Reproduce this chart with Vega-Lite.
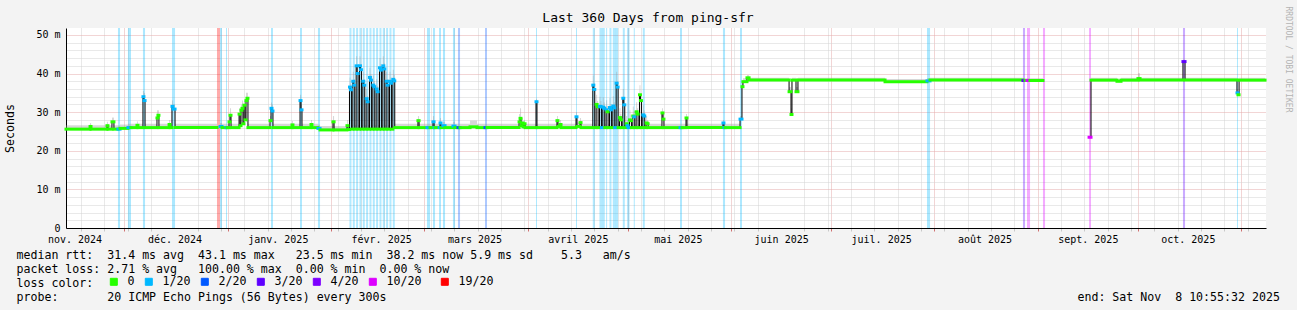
{
  "$schema": "https://vega.github.io/schema/vega-lite/v6.json",
  "width": 1200,
  "height": 200,
  "autosize": {"type": "none"},
  "padding": {"left": 66, "top": 28, "right": 31, "bottom": 82},
  "background": "#f3f3f3",
  "title": {"text": "Last 360 Days from ping-sfr", "font": "DejaVu Sans Mono", "fontSize": 13, "fontWeight": "normal", "color": "#000000", "anchor": "middle", "dx": -18, "offset": -19},
  "config": {
    "view": {"fill": "white", "stroke": null},
    "font": "DejaVu Sans Mono"
  },
  "data": {
    "format": {"parse": {"t": "date", "t2": "date"}},
    "values": [
      {"t": "2024-11-13T10:56", "t2": "2024-11-20T16:00", "m": 25.6, "l": "0", "s": 26.6},
      {"t": "2024-11-20T16:00", "t2": "2024-11-20T23:00", "m": 26.3, "l": "0", "s": 27.2},
      {"t": "2024-11-20T23:00", "t2": "2024-11-25T18:00", "m": 25.6, "l": "0", "s": 26.6},
      {"t": "2024-11-25T18:00", "t2": "2024-11-26T01:00", "m": 26.5, "l": "0", "s": 27.5},
      {"t": "2024-11-26T01:00", "t2": "2024-11-27T06:00", "m": 25.6, "l": "0", "s": 26.6},
      {"t": "2024-11-27T06:00", "t2": "2024-11-27T20:00", "m": 27.5, "l": "0", "s": 28.6},
      {"t": "2024-11-27T20:00", "t2": "2024-11-29T01:00", "m": 25.6, "l": "0", "s": 26.6},
      {"t": "2024-11-29T01:00", "t2": "2024-11-29T16:00", "m": 25.6, "l": "1/20", "s": 26.6},
      {"t": "2024-11-29T16:00", "t2": "2024-12-02T01:00", "m": 25.8, "l": "0", "s": 26.8},
      {"t": "2024-12-02T01:00", "t2": "2024-12-02T23:00", "m": 26.0, "l": "1/20", "s": 27},
      {"t": "2024-12-02T23:00", "t2": "2024-12-04T18:00", "m": 26.0, "l": "0", "s": 27},
      {"t": "2024-12-04T18:00", "t2": "2024-12-05T01:00", "m": 26.6, "l": "0", "s": 27.6},
      {"t": "2024-12-05T01:00", "t2": "2024-12-06T13:00", "m": 26.0, "l": "0", "s": 27},
      {"t": "2024-12-06T13:00", "t2": "2024-12-06T20:00", "m": 34.0, "l": "1/20", "s": 35.5},
      {"t": "2024-12-06T20:00", "t2": "2024-12-07T04:00", "m": 33.0, "l": "1/20", "s": 35},
      {"t": "2024-12-07T04:00", "t2": "2024-12-10T18:00", "m": 26.0, "l": "0", "s": 27},
      {"t": "2024-12-10T18:00", "t2": "2024-12-11T01:00", "m": 28.5, "l": "0", "s": 30.5},
      {"t": "2024-12-11T01:00", "t2": "2024-12-11T08:00", "m": 29.2, "l": "0", "s": 30.5},
      {"t": "2024-12-11T08:00", "t2": "2024-12-14T09:00", "m": 26.0, "l": "0", "s": 27},
      {"t": "2024-12-14T09:00", "t2": "2024-12-14T16:00", "m": 26.8, "l": "0", "s": 28},
      {"t": "2024-12-14T16:00", "t2": "2024-12-15T06:00", "m": 26.0, "l": "0", "s": 27},
      {"t": "2024-12-15T06:00", "t2": "2024-12-15T13:00", "m": 31.5, "l": "1/20", "s": 33},
      {"t": "2024-12-15T13:00", "t2": "2024-12-16T04:00", "m": 30.8, "l": "1/20", "s": 32},
      {"t": "2024-12-16T04:00", "t2": "2024-12-28T18:00", "m": 26.0, "l": "0", "s": 27},
      {"t": "2024-12-28T18:00", "t2": "2024-12-29T16:00", "m": null, "l": "19/20", "s": null},
      {"t": "2024-12-29T16:00", "t2": "2024-12-30T06:00", "m": 26.3, "l": "1/20", "s": 27.2},
      {"t": "2024-12-30T06:00", "t2": "2024-12-31T11:00", "m": 26.0, "l": "0", "s": 27},
      {"t": "2024-12-31T11:00", "t2": "2024-12-31T18:00", "m": 26.0, "l": "1/20", "s": 27},
      {"t": "2024-12-31T18:00", "t2": "2025-01-01T09:00", "m": 26.0, "l": "0", "s": 27},
      {"t": "2025-01-01T09:00", "t2": "2025-01-01T16:00", "m": 27.5, "l": "0", "s": 29},
      {"t": "2025-01-01T16:00", "t2": "2025-01-01T23:00", "m": 29.2, "l": "0", "s": 31},
      {"t": "2025-01-01T23:00", "t2": "2025-01-04T09:00", "m": 26.0, "l": "0", "s": 27},
      {"t": "2025-01-04T09:00", "t2": "2025-01-04T16:00", "m": 29.5, "l": "0", "s": 31},
      {"t": "2025-01-04T16:00", "t2": "2025-01-04T23:00", "m": 26.5, "l": "0", "s": 28},
      {"t": "2025-01-04T23:00", "t2": "2025-01-05T06:00", "m": 30.5, "l": "0", "s": 32},
      {"t": "2025-01-05T06:00", "t2": "2025-01-05T13:00", "m": 31.0, "l": "0", "s": 33},
      {"t": "2025-01-05T13:00", "t2": "2025-01-05T20:00", "m": 27.0, "l": "0", "s": 28},
      {"t": "2025-01-05T20:00", "t2": "2025-01-06T04:00", "m": 31.8, "l": "0", "s": 33},
      {"t": "2025-01-06T04:00", "t2": "2025-01-06T11:00", "m": 28.0, "l": "0", "s": 30},
      {"t": "2025-01-06T11:00", "t2": "2025-01-06T18:00", "m": 33.0, "l": "0", "s": 35},
      {"t": "2025-01-06T18:00", "t2": "2025-01-07T01:00", "m": 33.6, "l": "0", "s": 35},
      {"t": "2025-01-07T01:00", "t2": "2025-01-13T16:00", "m": 26.0, "l": "0", "s": 27},
      {"t": "2025-01-13T16:00", "t2": "2025-01-13T23:00", "m": 27.8, "l": "0", "s": 29},
      {"t": "2025-01-13T23:00", "t2": "2025-01-14T06:00", "m": 31.0, "l": "1/20", "s": 32.5},
      {"t": "2025-01-14T06:00", "t2": "2025-01-14T13:00", "m": 30.3, "l": "1/20", "s": 32},
      {"t": "2025-01-14T13:00", "t2": "2025-01-20T06:00", "m": 26.0, "l": "0", "s": 27},
      {"t": "2025-01-20T06:00", "t2": "2025-01-20T13:00", "m": 26.7, "l": "0", "s": 27.7},
      {"t": "2025-01-20T13:00", "t2": "2025-01-22T16:00", "m": 26.0, "l": "0", "s": 27},
      {"t": "2025-01-22T16:00", "t2": "2025-01-22T23:00", "m": 33.0, "l": "1/20", "s": 34.5},
      {"t": "2025-01-22T23:00", "t2": "2025-01-23T06:00", "m": 30.6, "l": "1/20", "s": 32},
      {"t": "2025-01-23T06:00", "t2": "2025-01-25T23:00", "m": 26.0, "l": "0", "s": 27},
      {"t": "2025-01-25T23:00", "t2": "2025-01-26T06:00", "m": 26.8, "l": "0", "s": 28},
      {"t": "2025-01-26T06:00", "t2": "2025-01-28T01:00", "m": 26.0, "l": "0", "s": 27},
      {"t": "2025-01-28T01:00", "t2": "2025-01-28T16:00", "m": 25.8, "l": "1/20", "s": 26.8},
      {"t": "2025-01-28T16:00", "t2": "2025-02-01T13:00", "m": 25.4, "l": "0", "s": 26.4},
      {"t": "2025-02-01T13:00", "t2": "2025-02-01T21:00", "m": 27.5, "l": "0", "s": 29},
      {"t": "2025-02-01T21:00", "t2": "2025-02-05T18:00", "m": 25.4, "l": "0", "s": 26.4},
      {"t": "2025-02-05T18:00", "t2": "2025-02-06T01:00", "m": 26.5, "l": "0", "s": 28},
      {"t": "2025-02-06T01:00", "t2": "2025-02-06T12:00", "m": 25.5, "l": "0", "s": 26.5},
      {"t": "2025-02-06T12:00", "t2": "2025-02-06T19:00", "m": 36.5, "l": "1/20", "s": 39},
      {"t": "2025-02-06T19:00", "t2": "2025-02-07T02:00", "m": 35.8, "l": "1/20", "s": 37.3},
      {"t": "2025-02-07T02:00", "t2": "2025-02-07T12:00", "m": 25.6, "l": "0", "s": 26.6},
      {"t": "2025-02-07T12:00", "t2": "2025-02-07T19:00", "m": 38.0, "l": "1/20", "s": 40.5},
      {"t": "2025-02-07T19:00", "t2": "2025-02-08T02:00", "m": 37.0, "l": "1/20", "s": 38.5},
      {"t": "2025-02-08T02:00", "t2": "2025-02-08T12:00", "m": 25.6, "l": "0", "s": 26.6},
      {"t": "2025-02-08T12:00", "t2": "2025-02-08T19:00", "m": 42.0, "l": "1/20", "s": 44.5},
      {"t": "2025-02-08T19:00", "t2": "2025-02-09T02:00", "m": 40.0, "l": "1/20", "s": 41.5},
      {"t": "2025-02-09T02:00", "t2": "2025-02-09T12:00", "m": 25.6, "l": "0", "s": 26.6},
      {"t": "2025-02-09T12:00", "t2": "2025-02-09T19:00", "m": 42.0, "l": "1/20", "s": 44.5},
      {"t": "2025-02-09T19:00", "t2": "2025-02-10T02:00", "m": 41.0, "l": "1/20", "s": 42.5},
      {"t": "2025-02-10T02:00", "t2": "2025-02-10T12:00", "m": 25.6, "l": "0", "s": 26.6},
      {"t": "2025-02-10T12:00", "t2": "2025-02-10T19:00", "m": 38.0, "l": "1/20", "s": 40.5},
      {"t": "2025-02-10T19:00", "t2": "2025-02-11T02:00", "m": 37.0, "l": "1/20", "s": 38.5},
      {"t": "2025-02-11T02:00", "t2": "2025-02-11T12:00", "m": 25.6, "l": "0", "s": 26.6},
      {"t": "2025-02-11T12:00", "t2": "2025-02-11T19:00", "m": 33.5, "l": "1/20", "s": 36},
      {"t": "2025-02-11T19:00", "t2": "2025-02-12T02:00", "m": 32.7, "l": "1/20", "s": 34.2},
      {"t": "2025-02-12T02:00", "t2": "2025-02-12T12:00", "m": 25.6, "l": "0", "s": 26.6},
      {"t": "2025-02-12T12:00", "t2": "2025-02-12T19:00", "m": 39.0, "l": "1/20", "s": 41.5},
      {"t": "2025-02-12T19:00", "t2": "2025-02-13T02:00", "m": 38.3, "l": "1/20", "s": 39.8},
      {"t": "2025-02-13T02:00", "t2": "2025-02-13T12:00", "m": 25.6, "l": "0", "s": 26.6},
      {"t": "2025-02-13T12:00", "t2": "2025-02-13T19:00", "m": 37.0, "l": "1/20", "s": 39.5},
      {"t": "2025-02-13T19:00", "t2": "2025-02-14T02:00", "m": 36.6, "l": "1/20", "s": 38.1},
      {"t": "2025-02-14T02:00", "t2": "2025-02-14T12:00", "m": 25.6, "l": "0", "s": 26.6},
      {"t": "2025-02-14T12:00", "t2": "2025-02-14T19:00", "m": 36.0, "l": "1/20", "s": 38.5},
      {"t": "2025-02-14T19:00", "t2": "2025-02-15T02:00", "m": 35.3, "l": "1/20", "s": 36.8},
      {"t": "2025-02-15T02:00", "t2": "2025-02-15T12:00", "m": 25.6, "l": "0", "s": 26.6},
      {"t": "2025-02-15T12:00", "t2": "2025-02-15T19:00", "m": 41.5, "l": "1/20", "s": 44},
      {"t": "2025-02-15T19:00", "t2": "2025-02-16T02:00", "m": 40.9, "l": "1/20", "s": 42.4},
      {"t": "2025-02-16T02:00", "t2": "2025-02-16T12:00", "m": 25.6, "l": "0", "s": 26.6},
      {"t": "2025-02-16T12:00", "t2": "2025-02-16T19:00", "m": 42.0, "l": "1/20", "s": 44.5},
      {"t": "2025-02-16T19:00", "t2": "2025-02-17T02:00", "m": 41.2, "l": "1/20", "s": 42.7},
      {"t": "2025-02-17T02:00", "t2": "2025-02-17T12:00", "m": 25.6, "l": "0", "s": 26.6},
      {"t": "2025-02-17T12:00", "t2": "2025-02-17T19:00", "m": 38.0, "l": "1/20", "s": 40.5},
      {"t": "2025-02-17T19:00", "t2": "2025-02-18T02:00", "m": 37.0, "l": "1/20", "s": 38.5},
      {"t": "2025-02-18T02:00", "t2": "2025-02-18T12:00", "m": 25.6, "l": "0", "s": 26.6},
      {"t": "2025-02-18T12:00", "t2": "2025-02-18T19:00", "m": 38.0, "l": "1/20", "s": 40.5},
      {"t": "2025-02-18T19:00", "t2": "2025-02-19T02:00", "m": 37.5, "l": "1/20", "s": 39},
      {"t": "2025-02-19T02:00", "t2": "2025-02-19T12:00", "m": 25.6, "l": "0", "s": 26.6},
      {"t": "2025-02-19T12:00", "t2": "2025-02-19T19:00", "m": 38.5, "l": "1/20", "s": 41},
      {"t": "2025-02-19T19:00", "t2": "2025-02-20T02:00", "m": 38.1, "l": "1/20", "s": 39.6},
      {"t": "2025-02-20T02:00", "t2": "2025-02-27T01:00", "m": 26.0, "l": "0", "s": 27},
      {"t": "2025-02-27T01:00", "t2": "2025-02-27T09:00", "m": 27.8, "l": "0", "s": 29},
      {"t": "2025-02-27T09:00", "t2": "2025-03-01T18:00", "m": 26.0, "l": "0", "s": 27},
      {"t": "2025-03-01T18:00", "t2": "2025-03-02T16:00", "m": 26.0, "l": "1/20", "s": 27},
      {"t": "2025-03-02T16:00", "t2": "2025-03-03T13:00", "m": 26.0, "l": "0", "s": 27},
      {"t": "2025-03-03T13:00", "t2": "2025-03-03T21:00", "m": 27.5, "l": "1/20", "s": 29},
      {"t": "2025-03-03T21:00", "t2": "2025-03-04T04:00", "m": 26.0, "l": "1/20", "s": 27},
      {"t": "2025-03-04T04:00", "t2": "2025-03-05T09:00", "m": 26.0, "l": "0", "s": 27},
      {"t": "2025-03-05T09:00", "t2": "2025-03-05T16:00", "m": 26.0, "l": "1/20", "s": 27},
      {"t": "2025-03-05T16:00", "t2": "2025-03-05T23:00", "m": 27.2, "l": "1/20", "s": 28.5},
      {"t": "2025-03-05T23:00", "t2": "2025-03-06T13:00", "m": 26.0, "l": "0", "s": 27},
      {"t": "2025-03-06T13:00", "t2": "2025-03-07T04:00", "m": 26.5, "l": "1/20", "s": 27.5},
      {"t": "2025-03-07T04:00", "t2": "2025-03-09T13:00", "m": 26.0, "l": "0", "s": 27},
      {"t": "2025-03-09T13:00", "t2": "2025-03-10T04:00", "m": 26.4, "l": "1/20", "s": 27.5},
      {"t": "2025-03-10T04:00", "t2": "2025-03-11T01:00", "m": 26.0, "l": "0", "s": 27},
      {"t": "2025-03-11T01:00", "t2": "2025-03-11T16:00", "m": 26.0, "l": "2/20", "s": 27},
      {"t": "2025-03-11T16:00", "t2": "2025-03-14T16:00", "m": 26.0, "l": "0", "s": 27},
      {"t": "2025-03-14T16:00", "t2": "2025-03-16T18:00", "m": 26.2, "l": "0", "s": 27.8},
      {"t": "2025-03-16T18:00", "t2": "2025-03-19T04:00", "m": 26.0, "l": "0", "s": 27},
      {"t": "2025-03-19T04:00", "t2": "2025-03-19T18:00", "m": 26.0, "l": "2/20", "s": 27},
      {"t": "2025-03-19T18:00", "t2": "2025-03-29T09:00", "m": 26.0, "l": "0", "s": 27},
      {"t": "2025-03-29T09:00", "t2": "2025-03-29T16:00", "m": 27.5, "l": "0", "s": 29.5},
      {"t": "2025-03-29T16:00", "t2": "2025-03-29T23:00", "m": 28.4, "l": "0", "s": 31},
      {"t": "2025-03-29T23:00", "t2": "2025-03-30T06:00", "m": 26.5, "l": "0", "s": 28},
      {"t": "2025-03-30T06:00", "t2": "2025-03-30T13:00", "m": 27.2, "l": "0", "s": 28.5},
      {"t": "2025-03-30T13:00", "t2": "2025-03-30T20:00", "m": 26.2, "l": "0", "s": 27.5},
      {"t": "2025-03-30T20:00", "t2": "2025-03-31T04:00", "m": 27.0, "l": "0", "s": 28},
      {"t": "2025-03-31T04:00", "t2": "2025-04-03T11:00", "m": 26.0, "l": "0", "s": 27},
      {"t": "2025-04-03T11:00", "t2": "2025-04-03T18:00", "m": 32.7, "l": "1/20", "s": 33.5},
      {"t": "2025-04-03T18:00", "t2": "2025-04-09T18:00", "m": 26.0, "l": "0", "s": 27},
      {"t": "2025-04-09T18:00", "t2": "2025-04-10T01:00", "m": 27.8, "l": "0", "s": 29},
      {"t": "2025-04-10T01:00", "t2": "2025-04-10T16:00", "m": 26.3, "l": "0", "s": 27.3},
      {"t": "2025-04-10T16:00", "t2": "2025-04-10T23:00", "m": 26.8, "l": "0", "s": 28},
      {"t": "2025-04-10T23:00", "t2": "2025-04-15T11:00", "m": 26.0, "l": "0", "s": 27},
      {"t": "2025-04-15T11:00", "t2": "2025-04-15T18:00", "m": 28.8, "l": "1/20", "s": 30},
      {"t": "2025-04-15T18:00", "t2": "2025-04-16T16:00", "m": 26.3, "l": "0", "s": 27.3},
      {"t": "2025-04-16T16:00", "t2": "2025-04-16T23:00", "m": 27.3, "l": "0", "s": 28.5},
      {"t": "2025-04-16T23:00", "t2": "2025-04-20T12:00", "m": 26.0, "l": "0", "s": 27},
      {"t": "2025-04-20T12:00", "t2": "2025-04-20T19:00", "m": 37.0, "l": "1/20", "s": 39.5},
      {"t": "2025-04-20T19:00", "t2": "2025-04-21T02:00", "m": 35.9, "l": "1/20", "s": 37.4},
      {"t": "2025-04-21T02:00", "t2": "2025-04-21T12:00", "m": 26.0, "l": "0", "s": 27},
      {"t": "2025-04-21T12:00", "t2": "2025-04-21T19:00", "m": 32.0, "l": "0", "s": 34.5},
      {"t": "2025-04-21T19:00", "t2": "2025-04-22T02:00", "m": 31.4, "l": "0", "s": 32.9},
      {"t": "2025-04-22T02:00", "t2": "2025-04-22T12:00", "m": 26.0, "l": "0", "s": 27},
      {"t": "2025-04-22T12:00", "t2": "2025-04-22T19:00", "m": 31.5, "l": "1/20", "s": 34},
      {"t": "2025-04-22T19:00", "t2": "2025-04-23T02:00", "m": 31.4, "l": "1/20", "s": 32.9},
      {"t": "2025-04-23T02:00", "t2": "2025-04-23T12:00", "m": 26.0, "l": "1/20", "s": 27},
      {"t": "2025-04-23T12:00", "t2": "2025-04-23T19:00", "m": 31.3, "l": "1/20", "s": 33.8},
      {"t": "2025-04-23T19:00", "t2": "2025-04-24T02:00", "m": 31.0, "l": "1/20", "s": 32.5},
      {"t": "2025-04-24T02:00", "t2": "2025-04-24T12:00", "m": 26.0, "l": "0", "s": 27},
      {"t": "2025-04-24T12:00", "t2": "2025-04-24T19:00", "m": 30.6, "l": "1/20", "s": 33.1},
      {"t": "2025-04-24T19:00", "t2": "2025-04-25T02:00", "m": 30.1, "l": "0", "s": 31.6},
      {"t": "2025-04-25T02:00", "t2": "2025-04-25T12:00", "m": 26.0, "l": "0", "s": 27},
      {"t": "2025-04-25T12:00", "t2": "2025-04-25T19:00", "m": 31.2, "l": "1/20", "s": 33.7},
      {"t": "2025-04-25T19:00", "t2": "2025-04-26T02:00", "m": 30.6, "l": "1/20", "s": 32.1},
      {"t": "2025-04-26T02:00", "t2": "2025-04-26T12:00", "m": 26.0, "l": "0", "s": 27},
      {"t": "2025-04-26T12:00", "t2": "2025-04-26T19:00", "m": 31.6, "l": "1/20", "s": 34.1},
      {"t": "2025-04-26T19:00", "t2": "2025-04-27T02:00", "m": 31.1, "l": "1/20", "s": 32.6},
      {"t": "2025-04-27T02:00", "t2": "2025-04-27T12:00", "m": 26.0, "l": "1/20", "s": 27},
      {"t": "2025-04-27T12:00", "t2": "2025-04-27T19:00", "m": 37.5, "l": "1/20", "s": 40.5},
      {"t": "2025-04-27T19:00", "t2": "2025-04-28T02:00", "m": 36.5, "l": "1/20", "s": 38},
      {"t": "2025-04-28T02:00", "t2": "2025-04-28T12:00", "m": 26.0, "l": "0", "s": 27},
      {"t": "2025-04-28T12:00", "t2": "2025-04-28T19:00", "m": 28.6, "l": "0", "s": 31},
      {"t": "2025-04-28T19:00", "t2": "2025-04-29T02:00", "m": 28.0, "l": "0", "s": 29.5},
      {"t": "2025-04-29T02:00", "t2": "2025-04-29T12:00", "m": 26.0, "l": "0", "s": 27},
      {"t": "2025-04-29T12:00", "t2": "2025-04-29T19:00", "m": 33.6, "l": "1/20", "s": 36},
      {"t": "2025-04-29T19:00", "t2": "2025-04-30T02:00", "m": 31.9, "l": "1/20", "s": 33.4},
      {"t": "2025-04-30T02:00", "t2": "2025-04-30T12:00", "m": 26.0, "l": "0", "s": 27},
      {"t": "2025-04-30T12:00", "t2": "2025-04-30T19:00", "m": 27.0, "l": "0", "s": 29},
      {"t": "2025-04-30T19:00", "t2": "2025-05-01T02:00", "m": 26.5, "l": "1/20", "s": 28},
      {"t": "2025-05-01T02:00", "t2": "2025-05-01T12:00", "m": 26.0, "l": "1/20", "s": 27},
      {"t": "2025-05-01T12:00", "t2": "2025-05-01T19:00", "m": 28.0, "l": "0", "s": 30.5},
      {"t": "2025-05-01T19:00", "t2": "2025-05-02T02:00", "m": 27.8, "l": "0", "s": 29.3},
      {"t": "2025-05-02T02:00", "t2": "2025-05-02T12:00", "m": 26.0, "l": "0", "s": 27},
      {"t": "2025-05-02T12:00", "t2": "2025-05-02T19:00", "m": 29.0, "l": "0", "s": 31.5},
      {"t": "2025-05-02T19:00", "t2": "2025-05-03T02:00", "m": 28.8, "l": "1/20", "s": 30.3},
      {"t": "2025-05-03T02:00", "t2": "2025-05-03T12:00", "m": 26.0, "l": "0", "s": 27},
      {"t": "2025-05-03T12:00", "t2": "2025-05-03T19:00", "m": 30.1, "l": "0", "s": 32.6},
      {"t": "2025-05-03T19:00", "t2": "2025-05-04T02:00", "m": 29.5, "l": "0", "s": 31},
      {"t": "2025-05-04T02:00", "t2": "2025-05-04T12:00", "m": 26.0, "l": "0", "s": 27},
      {"t": "2025-05-04T12:00", "t2": "2025-05-04T19:00", "m": 34.5, "l": "0", "s": 37},
      {"t": "2025-05-04T19:00", "t2": "2025-05-05T02:00", "m": 33.0, "l": "0", "s": 34.5},
      {"t": "2025-05-05T02:00", "t2": "2025-05-05T12:00", "m": 26.0, "l": "0", "s": 27},
      {"t": "2025-05-05T12:00", "t2": "2025-05-05T19:00", "m": 29.3, "l": "1/20", "s": 31.8},
      {"t": "2025-05-05T19:00", "t2": "2025-05-06T02:00", "m": 29.0, "l": "1/20", "s": 30.5},
      {"t": "2025-05-06T02:00", "t2": "2025-05-06T12:00", "m": 26.0, "l": "0", "s": 27},
      {"t": "2025-05-06T12:00", "t2": "2025-05-06T19:00", "m": 27.2, "l": "0", "s": 29},
      {"t": "2025-05-06T19:00", "t2": "2025-05-07T02:00", "m": 27.0, "l": "0", "s": 28},
      {"t": "2025-05-07T02:00", "t2": "2025-05-11T06:00", "m": 26.0, "l": "0", "s": 27},
      {"t": "2025-05-11T06:00", "t2": "2025-05-11T13:00", "m": 29.8, "l": "0", "s": 31},
      {"t": "2025-05-11T13:00", "t2": "2025-05-11T20:00", "m": 28.2, "l": "0", "s": 29.5},
      {"t": "2025-05-11T20:00", "t2": "2025-05-16T16:00", "m": 26.0, "l": "0", "s": 27},
      {"t": "2025-05-16T16:00", "t2": "2025-05-17T06:00", "m": 26.0, "l": "1/20", "s": 27},
      {"t": "2025-05-17T06:00", "t2": "2025-05-18T11:00", "m": 26.0, "l": "0", "s": 27},
      {"t": "2025-05-18T11:00", "t2": "2025-05-18T18:00", "m": 28.5, "l": "0", "s": 29.5},
      {"t": "2025-05-18T18:00", "t2": "2025-05-29T13:00", "m": 26.0, "l": "0", "s": 27},
      {"t": "2025-05-29T13:00", "t2": "2025-05-29T20:00", "m": 27.2, "l": "1/20", "s": 28},
      {"t": "2025-05-29T20:00", "t2": "2025-05-30T04:00", "m": 26.0, "l": "1/20", "s": 27},
      {"t": "2025-05-30T04:00", "t2": "2025-06-03T16:00", "m": 26.0, "l": "0", "s": 27},
      {"t": "2025-06-03T16:00", "t2": "2025-06-04T06:00", "m": 28.2, "l": "1/20", "s": 29},
      {"t": "2025-06-04T06:00", "t2": "2025-06-04T13:00", "m": 36.6, "l": "0", "s": 37.5},
      {"t": "2025-06-04T13:00", "t2": "2025-06-05T18:00", "m": 37.9, "l": "0", "s": 38.8},
      {"t": "2025-06-05T18:00", "t2": "2025-06-06T09:00", "m": 38.9, "l": "0", "s": 39.6},
      {"t": "2025-06-06T09:00", "t2": "2025-06-18T09:00", "m": 38.3, "l": "0", "s": 38.9},
      {"t": "2025-06-18T09:00", "t2": "2025-06-18T23:00", "m": 35.3, "l": "0", "s": 36.5},
      {"t": "2025-06-18T23:00", "t2": "2025-06-19T06:00", "m": 29.4, "l": "0", "s": 31},
      {"t": "2025-06-19T06:00", "t2": "2025-06-20T11:00", "m": 38.3, "l": "0", "s": 38.9},
      {"t": "2025-06-20T11:00", "t2": "2025-06-21T01:00", "m": 35.3, "l": "0", "s": 36.5},
      {"t": "2025-06-21T01:00", "t2": "2025-07-17T04:00", "m": 38.3, "l": "0", "s": 38.9},
      {"t": "2025-07-17T04:00", "t2": "2025-07-29T18:00", "m": 37.9, "l": "0", "s": 38.6},
      {"t": "2025-07-29T18:00", "t2": "2025-07-30T16:00", "m": 38.1, "l": "1/20", "s": 38.8},
      {"t": "2025-07-30T16:00", "t2": "2025-08-27T13:00", "m": 38.3, "l": "0", "s": 38.9},
      {"t": "2025-08-27T13:00", "t2": "2025-08-28T04:00", "m": 38.2, "l": "3/20", "s": 38.8},
      {"t": "2025-08-28T04:00", "t2": "2025-08-28T18:00", "m": 38.2, "l": "0", "s": 38.8},
      {"t": "2025-08-28T18:00", "t2": "2025-08-29T16:00", "m": 38.2, "l": "10/20", "s": 38.8},
      {"t": "2025-08-29T16:00", "t2": "2025-09-02T13:00", "m": 38.2, "l": "0", "s": 38.8},
      {"t": "2025-09-02T13:00", "t2": "2025-09-03T04:00", "m": null, "l": "10/20", "s": null},
      {"t": "2025-09-03T04:00", "t2": "2025-09-16T09:00", "m": null, "l": "0", "s": null},
      {"t": "2025-09-16T09:00", "t2": "2025-09-16T23:00", "m": 23.5, "l": "10/20", "s": null},
      {"t": "2025-09-16T23:00", "t2": "2025-09-24T18:00", "m": 38.3, "l": "0", "s": 38.9},
      {"t": "2025-09-24T18:00", "t2": "2025-09-25T23:00", "m": 38.0, "l": "0", "s": 38.6},
      {"t": "2025-09-25T23:00", "t2": "2025-10-01T01:00", "m": 38.3, "l": "0", "s": 38.9},
      {"t": "2025-10-01T01:00", "t2": "2025-10-01T16:00", "m": 38.7, "l": "0", "s": 40.1},
      {"t": "2025-10-01T16:00", "t2": "2025-10-14T13:00", "m": 38.3, "l": "0", "s": 38.9},
      {"t": "2025-10-14T13:00", "t2": "2025-10-15T04:00", "m": 43.1, "l": "3/20", "s": 43.6},
      {"t": "2025-10-15T04:00", "t2": "2025-10-30T18:00", "m": 38.3, "l": "0", "s": 38.9},
      {"t": "2025-10-30T18:00", "t2": "2025-10-31T01:00", "m": 35.0, "l": "1/20", "s": 36},
      {"t": "2025-10-31T01:00", "t2": "2025-10-31T09:00", "m": 34.5, "l": "0", "s": 35.5},
      {"t": "2025-10-31T09:00", "t2": "2025-11-08T04:00", "m": 38.3, "l": "0", "s": 38.9}
    ]
  },
  "encoding": {
    "x": {
      "field": "t",
      "type": "temporal",
      "scale": {"domain": [{"year": 2024, "month": 11, "date": 13, "hours": 10, "minutes": 55, "seconds": 32}, {"year": 2025, "month": 11, "date": 8, "hours": 10, "minutes": 55, "seconds": 32}]},
      "axis": {
        "values": [
          {"year": 2024, "month": 12, "date": 1}, {"year": 2025, "month": 1, "date": 1}, {"year": 2025, "month": 2, "date": 1}, {"year": 2025, "month": 3, "date": 1}, {"year": 2025, "month": 4, "date": 1}, {"year": 2025, "month": 5, "date": 1}, {"year": 2025, "month": 6, "date": 1}, {"year": 2025, "month": 7, "date": 1}, {"year": 2025, "month": 8, "date": 1}, {"year": 2025, "month": 9, "date": 1}, {"year": 2025, "month": 10, "date": 1}, {"year": 2025, "month": 11, "date": 1},
          {"year": 2024, "month": 11, "date": 18}, {"year": 2024, "month": 11, "date": 25}, {"year": 2024, "month": 12, "date": 2}, {"year": 2024, "month": 12, "date": 9}, {"year": 2024, "month": 12, "date": 16}, {"year": 2024, "month": 12, "date": 23}, {"year": 2024, "month": 12, "date": 30},
          {"year": 2025, "month": 1, "date": 6}, {"year": 2025, "month": 1, "date": 13}, {"year": 2025, "month": 1, "date": 20}, {"year": 2025, "month": 1, "date": 27},
          {"year": 2025, "month": 2, "date": 3}, {"year": 2025, "month": 2, "date": 10}, {"year": 2025, "month": 2, "date": 17}, {"year": 2025, "month": 2, "date": 24},
          {"year": 2025, "month": 3, "date": 3}, {"year": 2025, "month": 3, "date": 10}, {"year": 2025, "month": 3, "date": 17}, {"year": 2025, "month": 3, "date": 24}, {"year": 2025, "month": 3, "date": 31},
          {"year": 2025, "month": 4, "date": 7}, {"year": 2025, "month": 4, "date": 14}, {"year": 2025, "month": 4, "date": 21}, {"year": 2025, "month": 4, "date": 28},
          {"year": 2025, "month": 5, "date": 5}, {"year": 2025, "month": 5, "date": 12}, {"year": 2025, "month": 5, "date": 19}, {"year": 2025, "month": 5, "date": 26},
          {"year": 2025, "month": 6, "date": 2}, {"year": 2025, "month": 6, "date": 9}, {"year": 2025, "month": 6, "date": 16}, {"year": 2025, "month": 6, "date": 23}, {"year": 2025, "month": 6, "date": 30},
          {"year": 2025, "month": 7, "date": 7}, {"year": 2025, "month": 7, "date": 14}, {"year": 2025, "month": 7, "date": 21}, {"year": 2025, "month": 7, "date": 28},
          {"year": 2025, "month": 8, "date": 4}, {"year": 2025, "month": 8, "date": 11}, {"year": 2025, "month": 8, "date": 18}, {"year": 2025, "month": 8, "date": 25},
          {"year": 2025, "month": 9, "date": 8}, {"year": 2025, "month": 9, "date": 15}, {"year": 2025, "month": 9, "date": 22}, {"year": 2025, "month": 9, "date": 29},
          {"year": 2025, "month": 10, "date": 6}, {"year": 2025, "month": 10, "date": 13}, {"year": 2025, "month": 10, "date": 20}, {"year": 2025, "month": 10, "date": 27}, {"year": 2025, "month": 11, "date": 3},
          {"year": 2024, "month": 11, "date": 16, "milliseconds": 1}, {"year": 2024, "month": 12, "date": 16, "milliseconds": 1}, {"year": 2025, "month": 1, "date": 16, "milliseconds": 1}, {"year": 2025, "month": 2, "date": 16, "milliseconds": 1}, {"year": 2025, "month": 3, "date": 16, "milliseconds": 1}, {"year": 2025, "month": 4, "date": 16, "milliseconds": 1}, {"year": 2025, "month": 5, "date": 16, "milliseconds": 1}, {"year": 2025, "month": 6, "date": 16, "milliseconds": 1}, {"year": 2025, "month": 7, "date": 16, "milliseconds": 1}, {"year": 2025, "month": 8, "date": 16, "milliseconds": 1}, {"year": 2025, "month": 9, "date": 16, "milliseconds": 1}, {"year": 2025, "month": 10, "date": 16, "milliseconds": 1}
        ],
        "labelExpr": "datum.value % 1000 == 1 ? ['janv.','févr.','mars','avril','mai','juin','juil.','août','sept.','oct.','nov.','déc.'][month(datum.value)] + ' ' + year(datum.value) : ''",
        "labelFont": "DejaVu Sans Mono",
        "labelFontSize": 10,
        "labelColor": "#000000",
        "labelOverlap": false,
        "labelFlush": false,
        "labelBound": false,
        "labelPadding": 3,
        "labelBaseline": "top",
        "grid": true,
        "gridDash": [1, 1],
        "gridColor": {"condition": {"test": "date(datum.value) == 1 && datum.value % 1000 == 0", "value": "#e4aaaa"}, "value": "#d2d2d2"},
        "gridOpacity": {"condition": {"test": "datum.value % 1000 == 1", "value": 0}, "value": 1},
        "tickSize": 3,
        "tickColor": {"condition": {"test": "date(datum.value) == 1 && datum.value % 1000 == 0", "value": "#d07070"}, "value": "#c8c8c8"},
        "tickOpacity": {"condition": {"test": "datum.value % 1000 == 1", "value": 0}, "value": 1},
        "domainColor": "#000000",
        "title": [
          "median\u00a0rtt:\u00a0\u00a031.4\u00a0ms\u00a0avg\u00a0\u00a043.1\u00a0ms\u00a0max\u00a0\u00a0\u00a023.5\u00a0ms\u00a0min\u00a0\u00a038.2\u00a0ms\u00a0now\u00a05.9\u00a0ms\u00a0sd\u00a0\u00a0\u00a0\u00a05.3\u00a0\u00a0\u00a0am/s",
          "packet\u00a0loss:\u00a02.71\u00a0%\u00a0avg\u00a0\u00a0\u00a0100.00\u00a0%\u00a0max\u00a0\u00a00.00\u00a0%\u00a0min\u00a0\u00a00.00\u00a0%\u00a0now",
          "loss\u00a0color:",
          "probe:\u00a0\u00a0\u00a0\u00a0\u00a0\u00a0\u00a020\u00a0ICMP\u00a0Echo\u00a0Pings\u00a0(56\u00a0Bytes)\u00a0every\u00a0300s\u00a0\u00a0\u00a0\u00a0\u00a0\u00a0\u00a0\u00a0\u00a0\u00a0\u00a0\u00a0\u00a0\u00a0\u00a0\u00a0\u00a0\u00a0\u00a0\u00a0\u00a0\u00a0\u00a0\u00a0\u00a0\u00a0\u00a0\u00a0\u00a0\u00a0\u00a0\u00a0\u00a0\u00a0\u00a0\u00a0\u00a0\u00a0\u00a0\u00a0\u00a0\u00a0\u00a0\u00a0\u00a0\u00a0\u00a0\u00a0\u00a0\u00a0\u00a0\u00a0\u00a0\u00a0\u00a0\u00a0\u00a0\u00a0\u00a0\u00a0\u00a0\u00a0\u00a0\u00a0\u00a0\u00a0\u00a0\u00a0\u00a0\u00a0\u00a0\u00a0\u00a0\u00a0\u00a0\u00a0\u00a0\u00a0\u00a0\u00a0\u00a0\u00a0\u00a0\u00a0\u00a0\u00a0\u00a0\u00a0\u00a0\u00a0\u00a0\u00a0\u00a0\u00a0\u00a0\u00a0\u00a0\u00a0\u00a0end:\u00a0Sat\u00a0Nov\u00a0\u00a08\u00a010:55:32\u00a02025"
        ],
        "titleFont": "DejaVu Sans Mono",
        "titleFontSize": 11.6,
        "titleFontWeight": "normal",
        "titleColor": "#000000",
        "titleAlign": "left",
        "titleAnchor": "start",
        "titleBaseline": "top",
        "titleX": -50,
        "titleY": 21,
        "titleLineHeight": 14
      }
    }
  },
  "layer": [
    {
      "transform": [{"filter": "datum.l != '0'"}],
      "mark": {"type": "rect", "opacity": 0.33},
      "encoding": {
        "x2": {"field": "t2"},
        "y": {"datum": 0, "type": "quantitative", "scale": {"domain": [0, 1], "nice": false}, "axis": {"orient": "right", "labels": false, "ticks": false, "domain": false, "grid": false, "title": "RRDTOOL / TOBI OETIKER", "titleFont": "DejaVu Sans Mono", "titleFontSize": 8, "titleFontWeight": "normal", "titleColor": "#b4b4b4", "titleAngle": 90, "titleX": 21, "titleY": 31, "titleAlign": "center", "titleBaseline": "middle"}},
        "y2": {"datum": 1},
        "color": {
          "field": "l",
          "type": "nominal",
          "scale": {"domain": ["0", "1/20", "2/20", "3/20", "4/20", "10/20", "19/20"], "range": ["#26ff00", "#00b8ff", "#0059ff", "#5e00ff", "#7e00ff", "#dd00ff", "#ff0000"]},
          "legend": {
            "title": null,
            "orient": "none",
            "legendX": 42,
            "legendY": 248,
            "direction": "horizontal",
            "columns": 7,
            "gridAlign": "none",
            "columnPadding": 8,
            "symbolType": "square",
            "symbolSize": 49,
            "symbolStrokeColor": "#000000",
            "symbolStrokeWidth": 1,
            "symbolOpacity": 1,
            "labelFont": "DejaVu Sans Mono",
            "labelFontSize": 11.6,
            "labelColor": "#000000",
            "labelOffset": 8,
            "labelExpr": "datum.label == '10/20' ? '10/20\u2800' : datum.label"
          }
        }
      }
    },
    {
      "encoding": {
        "y": {
          "field": "m",
          "type": "quantitative",
          "scale": {"domain": [0, 51.8], "nice": false, "zero": true},
          "axis": {
            "orient": "left",
            "values": [0, 2, 4, 6, 8, 10, 12, 14, 16, 18, 20, 22, 24, 26, 28, 30, 32, 34, 36, 38, 40, 42, 44, 46, 48, 50],
            "labelExpr": "datum.value % 10 == 0 ? (datum.value == 0 ? '0' : datum.value + ' m') : ''",
            "labelFont": "DejaVu Sans Mono",
            "labelFontSize": 10,
            "labelColor": "#000000",
            "labelPadding": 6,
            "labelOverlap": false,
            "labelFlush": false,
            "labelBaseline": "middle",
            "ticks": false,
            "domainColor": "#000000",
            "grid": true,
            "gridDash": [1, 1],
            "gridColor": {"condition": {"test": "datum.value % 10 == 0", "value": "#e4aaaa"}, "value": "#d2d2d2"},
            "title": "Seconds",
            "titleFont": "DejaVu Sans Mono",
            "titleFontSize": 11.6,
            "titleFontWeight": "normal",
            "titleColor": "#000000",
            "titleX": -56,
            "titleY": 100,
            "titleAngle": 270,
            "titleAlign": "center",
            "titleBaseline": "middle"
          }
        }
      },
      "layer": [
        {
          "transform": [{"filter": "isValid(datum.s) && isValid(datum.m)"}],
          "mark": {"type": "rect", "color": "#9a9a9a", "opacity": 0.4},
          "encoding": {
            "x2": {"field": "t2"},
            "y2": {"field": "s"}
          }
        },
        {
          "mark": {"type": "line", "interpolate": "step-after", "color": "#000000", "strokeWidth": 1, "invalid": "break-paths-show-domains"},
          "encoding": {}
        },
        {
          "transform": [{"filter": "isValid(datum.m)"}],
          "mark": {"type": "rule", "strokeWidth": 3, "strokeCap": "square"},
          "encoding": {
            "x2": {"field": "t2"},
            "color": {"field": "l", "type": "nominal", "legend": null}
          }
        }
      ]
    }
  ],
  "resolve": {"scale": {"y": "independent"}, "axis": {"y": "independent"}}
}
